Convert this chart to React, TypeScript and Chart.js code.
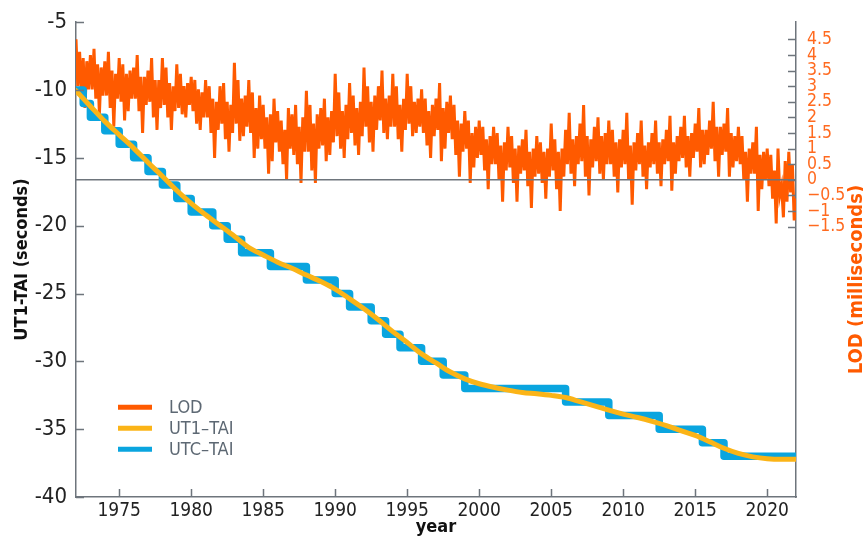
import React, { useEffect, useRef } from "react";
import { Chart, registerables } from "chart.js";

Chart.register(...registerables);

// ---------- data ----------
const X_MIN = 1972;
const X_MAX = 2022;
const yearTicks = [1975, 1980, 1985, 1990, 1995, 2000, 2005, 2010, 2015, 2020];
const secondsTicks = [-40, -35, -30, -25, -20, -15, -10, -5];
const lodTicks = [-1.5, -1, -0.5, 0, 0.5, 1, 1.5, 2, 2.5, 3, 3.5, 4, 4.5];

// UTC-TAI: dates where a leap second took effect and the new value
const leapDates = [1972.0, 1972.5, 1973.0, 1974.0, 1975.0, 1976.0, 1977.0, 1978.0, 1979.0, 1980.0,
  1981.5, 1982.5, 1983.5, 1985.5, 1988.0, 1990.0, 1991.0, 1992.5, 1993.5, 1994.5,
  1996.0, 1997.5, 1999.0, 2006.0, 2009.0, 2012.5, 2015.5, 2017.0, 2022.0];
const utcTai = [-10, -11, -12, -13, -14, -15, -16, -17, -18, -19,
  -20, -21, -22, -23, -24, -25, -26, -27, -28, -29,
  -30, -31, -32, -33, -34, -35, -36, -37, -37];

// UT1-TAI at the start of each year (seconds)
const ut1Years = [1972, 1973, 1974, 1975, 1976, 1977, 1978, 1979, 1980, 1981, 1982, 1983, 1984, 1985,
  1986, 1987, 1988, 1989, 1990, 1991, 1992, 1993, 1994, 1995, 1996, 1997, 1998, 1999, 2000,
  2001, 2002, 2003, 2004, 2005, 2006, 2007, 2008, 2009, 2010, 2011, 2012, 2013, 2014, 2015,
  2016, 2017, 2018, 2019, 2020, 2021, 2022];
const ut1Tai = [-10.05, -11.19, -12.31, -13.3, -14.28, -15.34, -16.35, -17.41, -18.36, -19.2, -19.99,
  -20.78, -21.61, -22.16, -22.69, -23.14, -23.64, -24.12, -24.68, -25.39, -26.13, -26.94, -27.81,
  -28.61, -29.45, -30.12, -30.79, -31.29, -31.65, -31.91, -32.12, -32.29, -32.39, -32.51, -32.67,
  -32.97, -33.28, -33.6, -33.89, -34.14, -34.42, -34.73, -35.1, -35.46, -35.92, -36.41, -36.79,
  -37.04, -37.18, -37.22, -37.22];

// LOD excess (ms), 8 samples per year from 1972.0
const LOD_START = 1972;
const LOD_PER_YEAR = 8;
const lodMs = [
  4.5, 3.0, 4.1, 2.8, 3.9, 2.3, 3.8, 2.9, // 1972
  4.0, 2.9, 4.2, 2.6, 3.7, 2.1, 3.6, 2.7, // 1973
  3.8, 2.7, 4.1, 2.3, 3.5, 1.7, 3.4, 2.6, // 1974
  3.9, 2.5, 3.7, 1.9, 3.4, 2.2, 3.5, 2.6, // 1975
  3.6, 2.6, 4.0, 2.2, 3.3, 1.5, 3.3, 2.4, // 1976
  3.5, 2.5, 3.9, 2.0, 3.2, 1.6, 3.2, 2.3, // 1977
  3.9, 2.4, 3.6, 2.0, 3.1, 1.6, 3.0, 2.2, // 1978
  3.7, 2.3, 3.4, 2.1, 3.0, 2.0, 3.1, 2.4, // 1979
  3.3, 2.2, 3.2, 1.8, 2.9, 1.6, 2.8, 2.0, // 1980
  3.2, 2.0, 3.0, 1.5, 2.6, 0.7, 2.5, 1.6, // 1981
  3.0, 1.8, 3.1, 1.3, 2.5, 0.9, 2.4, 1.5, // 1982
  3.75, 1.8, 3.2, 1.25, 2.6, 1.4, 2.7, 1.7, // 1983
  3.2, 1.5, 2.8, 0.7, 2.3, 1.0, 2.7, 1.3, // 1984
  2.4, 1.0, 2.0, 0.2, 2.1, 0.6, 2.6, 1.2, // 1985
  2.2, 0.9, 1.9, 0.5, 1.6, 0.0, 2.3, 1.0, // 1986
  2.1, 0.8, 2.4, 0.5, 1.7, -0.1, 2.0, 0.9, // 1987
  2.85, 0.9, 2.4, 0.3, 1.8, -0.1, 2.1, 1.0, // 1988
  2.3, 1.1, 2.6, 0.6, 2.0, 0.8, 2.2, 1.2, // 1989
  3.4, 1.4, 2.8, 1.0, 2.2, 0.7, 2.4, 1.3, // 1990
  3.1, 1.5, 2.7, 1.1, 2.3, 0.8, 2.5, 1.4, // 1991
  3.6, 1.7, 3.0, 1.2, 2.5, 0.9, 2.7, 1.6, // 1992
  3.0, 1.9, 3.5, 1.5, 2.6, 1.3, 2.7, 1.7, // 1993
  3.4, 1.7, 3.0, 1.3, 2.4, 0.9, 2.6, 1.6, // 1994
  3.4, 1.8, 3.0, 1.4, 2.5, 1.5, 2.6, 1.7, // 1995
  2.9, 1.5, 2.6, 1.1, 2.2, 0.7, 2.4, 1.4, // 1996
  2.6, 1.6, 3.1, 0.6, 2.3, 1.0, 2.5, 1.5, // 1997
  2.7, 1.3, 2.4, 0.8, 1.9, 0.1, 1.8, 0.9, // 1998
  2.2, 1.0, 1.9, -0.1, 1.5, 0.4, 1.7, 0.7, // 1999
  1.9, 0.8, 1.7, 0.3, 1.3, -0.3, 1.4, 0.5, // 2000
  1.7, 0.5, 1.5, 0.0, 1.1, -0.7, 1.2, 0.3, // 2001
  1.7, 0.4, 1.4, -0.1, 1.0, -0.7, 1.1, 0.2, // 2002
  1.3, 0.3, 1.6, -0.2, 0.9, -0.9, 1.0, 0.1, // 2003
  1.4, 0.2, 1.2, -0.1, 0.9, -0.6, 1.0, 0.1, // 2004
  1.8, 0.3, 1.3, -0.3, 0.9, -1.0, 1.0, 0.1, // 2005
  1.6, 0.5, 2.15, 0.2, 1.3, -0.2, 1.4, 0.5, // 2006
  1.8, 0.6, 2.4, 0.1, 1.4, -0.5, 1.3, 0.4, // 2007
  1.7, 0.6, 2.0, 0.2, 1.4, 0.0, 1.5, 0.5, // 2008
  1.9, 0.5, 1.6, 0.1, 1.2, -0.4, 1.3, 0.4, // 2009
  1.6, 0.5, 2.15, 0.0, 1.1, -0.8, 1.2, 0.3, // 2010
  1.5, 0.5, 1.9, 0.1, 1.1, -0.3, 1.2, 0.4, // 2011
  1.5, 0.5, 1.9, 0.2, 1.2, -0.2, 1.3, 0.5, // 2012
  1.6, 0.6, 2.05, -0.35, 1.2, 0.2, 1.4, 0.6, // 2013
  1.7, 0.7, 2.05, 0.4, 1.4, 0.1, 1.5, 0.7, // 2014
  1.8, 0.9, 2.3, 0.4, 1.6, 0.5, 1.6, 0.8, // 2015
  1.9, 1.0, 2.5, 0.6, 1.7, 0.1, 1.7, 0.8, // 2016
  1.8, 0.9, 2.3, 0.1, 1.5, 0.4, 1.4, 0.6, // 2017
  1.7, 0.5, 1.4, 0.0, 0.9, -0.7, 1.0, 0.2, // 2018
  1.2, 0.2, 1.7, -1.0, 0.8, -0.3, 0.9, 0.0, // 2019
  1.0, -0.2, 0.8, -0.6, 0.3, -1.4, 1.0, -0.5, // 2020
  -0.2, -1.2, 0.6, -0.7, 0.9, -0.4, 0.5, -1.3, // 2021
  -0.6, // 2022
];

const zeroLineYears = [1972, 2022];
const zeroLineMs = [0, 0];

const legendLabels = ["LOD", "UT1\u2013TAI", "UTC\u2013TAI"];
const leftTitle = "UT1-TAI (seconds)";
const rightTitle = "LOD (milliseconds)";
const bottomTitle = "year";

// ---------- styles ----------
const LOD_COLOR = "#ff5a00";
const UT1_COLOR = "#fbb417";
const UTC_COLOR = "#0aa5df";
const AXIS_COLOR = "#6e757c";
const NARROW = "'Liberation Sans Narrow', 'DejaVu Sans Condensed', sans-serif";

const decorPlugin = {
  id: "decor",
  afterDraw(chart: any) {
    const { ctx, chartArea, scales } = chart;
    ctx.save();
    // inward ticks
    ctx.strokeStyle = AXIS_COLOR;
    ctx.lineWidth = 1.5;
    const len = 8;
    ctx.beginPath();
    scales.y.ticks.forEach((t: any) => {
      const y = Math.round(scales.y.getPixelForValue(t.value)) + 0.5;
      ctx.moveTo(chartArea.left, y);
      ctx.lineTo(chartArea.left + len, y);
    });
    scales.y1.ticks.forEach((t: any) => {
      const y = Math.round(scales.y1.getPixelForValue(t.value)) + 0.5;
      ctx.moveTo(chartArea.right, y);
      ctx.lineTo(chartArea.right - len, y);
    });
    scales.x.ticks.forEach((t: any) => {
      const x = Math.round(scales.x.getPixelForValue(t.value)) + 0.5;
      ctx.moveTo(x, chartArea.bottom);
      ctx.lineTo(x, chartArea.bottom - len);
    });
    ctx.stroke();

    // legend
    const colors = [LOD_COLOR, UT1_COLOR, UTC_COLOR];
    const lx = chartArea.left + 42;
    const ly = chartArea.top + 385;
    ctx.font = `18px ${NARROW}`;
    ctx.textBaseline = "middle";
    ctx.textAlign = "left";
    legendLabels.forEach((label, i) => {
      const y = ly + i * 21;
      ctx.strokeStyle = colors[i];
      ctx.lineWidth = 5;
      ctx.lineCap = "butt";
      ctx.beginPath();
      ctx.moveTo(lx, y);
      ctx.lineTo(lx + 34, y);
      ctx.stroke();
      ctx.fillStyle = "#5d6873";
      ctx.fillText(label, lx + 51, y + 1);
    });

    // right title (reads bottom to top)
    ctx.translate(chart.width - 6, (chartArea.top + chartArea.bottom) / 2 + 20);
    ctx.rotate(-Math.PI / 2);
    ctx.font = `bold 20px ${NARROW}`;
    ctx.fillStyle = LOD_COLOR;
    ctx.textAlign = "center";
    ctx.textBaseline = "middle";
    ctx.fillText(rightTitle, 0, 0);
    ctx.restore();
  },
};

export default function App() {
  const ref = useRef<HTMLCanvasElement | null>(null);

  useEffect(() => {
    document.body.style.margin = "0";
    const canvas = ref.current;
    if (!canvas) return;

    const chart = new Chart(canvas, {
      type: "line",
      data: {
        datasets: [
          {
            label: "UT1-TAI",
            data: ut1Years.map((x, i) => ({ x, y: ut1Tai[i] })),
            yAxisID: "y",
            borderColor: UT1_COLOR,
            borderWidth: 5,
            pointRadius: 0,
            cubicInterpolationMode: "monotone",
            borderCapStyle: "round",
            order: 0,
          },
          {
            label: "UTC-TAI",
            data: leapDates.map((x, i) => ({ x, y: utcTai[i] })),
            yAxisID: "y",
            borderColor: UTC_COLOR,
            borderWidth: 7.5,
            pointRadius: 0,
            stepped: "before",
            borderJoinStyle: "round",
            borderCapStyle: "round",
            order: 1,
          },
          {
            label: "zero",
            data: zeroLineYears.map((x, i) => ({ x, y: zeroLineMs[i] })),
            yAxisID: "y1",
            borderColor: AXIS_COLOR,
            borderWidth: 1.5,
            pointRadius: 0,
            order: 2,
          },
          {
            label: "LOD",
            data: lodMs.map((y, i) => ({ x: LOD_START + i / LOD_PER_YEAR, y })),
            yAxisID: "y1",
            borderColor: LOD_COLOR,
            borderWidth: 3,
            borderJoinStyle: "miter",
            pointRadius: 0,
            tension: 0,
            order: 3,
          },
        ],
      },
      options: {
        animation: false,
        responsive: false,
        devicePixelRatio: 1,
        layout: { padding: { top: 21, left: 0, right: 0, bottom: 0 } },
        plugins: { legend: { display: false }, tooltip: { enabled: false } },
        scales: {
          x: {
            type: "linear",
            min: X_MIN,
            max: X_MAX,
            grid: { display: false, drawTicks: false },
            border: { display: true, color: AXIS_COLOR, width: 1.5 },
            afterBuildTicks: (s: any) => {
              s.ticks = yearTicks.map((v) => ({ value: v }));
            },
            afterFit: (s: any) => {
              s.height = 41;
            },
            ticks: {
              callback: (v: any) => String(v),
              font: { family: NARROW, size: 19 },
              color: "#222",
              padding: 3,
              maxRotation: 0,
              autoSkip: false,
            },
            title: {
              display: true,
              text: bottomTitle,
              font: { family: NARROW, size: 18, weight: "bold" },
              color: "#111",
              padding: { top: 0, bottom: 0 },
            },
          },
          y: {
            type: "linear",
            position: "left",
            min: -40,
            max: -5,
            grid: { display: false, drawTicks: false },
            border: { display: true, color: AXIS_COLOR, width: 1.5 },
            afterBuildTicks: (s: any) => {
              s.ticks = secondsTicks.map((v) => ({ value: v }));
            },
            afterFit: (s: any) => {
              s.width = 76;
            },
            ticks: {
              callback: (v: any) => String(v),
              font: { family: NARROW, size: 22 },
              color: "#222",
              padding: 9,
            },
            title: {
              display: true,
              text: leftTitle,
              font: { family: NARROW, size: 18, weight: "bold" },
              color: "#111",
              padding: { top: 12, bottom: 0 },
            },
          },
          y1: {
            type: "linear",
            position: "right",
            min: -10.16,
            max: 5.05,
            grid: { display: false, drawTicks: false },
            border: { display: true, color: AXIS_COLOR, width: 1.5 },
            afterBuildTicks: (s: any) => {
              s.ticks = lodTicks.map((v) => ({ value: v }));
            },
            afterFit: (s: any) => {
              s.width = 67;
            },
            ticks: {
              callback: (v: any) => (v < 0 ? "\u2212" + String(-v) : String(v)),
              font: { family: NARROW, size: 17.5 },
              color: "#ff6a1f",
              padding: 11,
            },
          },
        },
      },
      plugins: [decorPlugin],
    } as any);

    return () => chart.destroy();
  }, []);

  return (
    <div style={{ width: 863, height: 538 }}>
      <canvas ref={ref} width={863} height={538} />
    </div>
  );
}
